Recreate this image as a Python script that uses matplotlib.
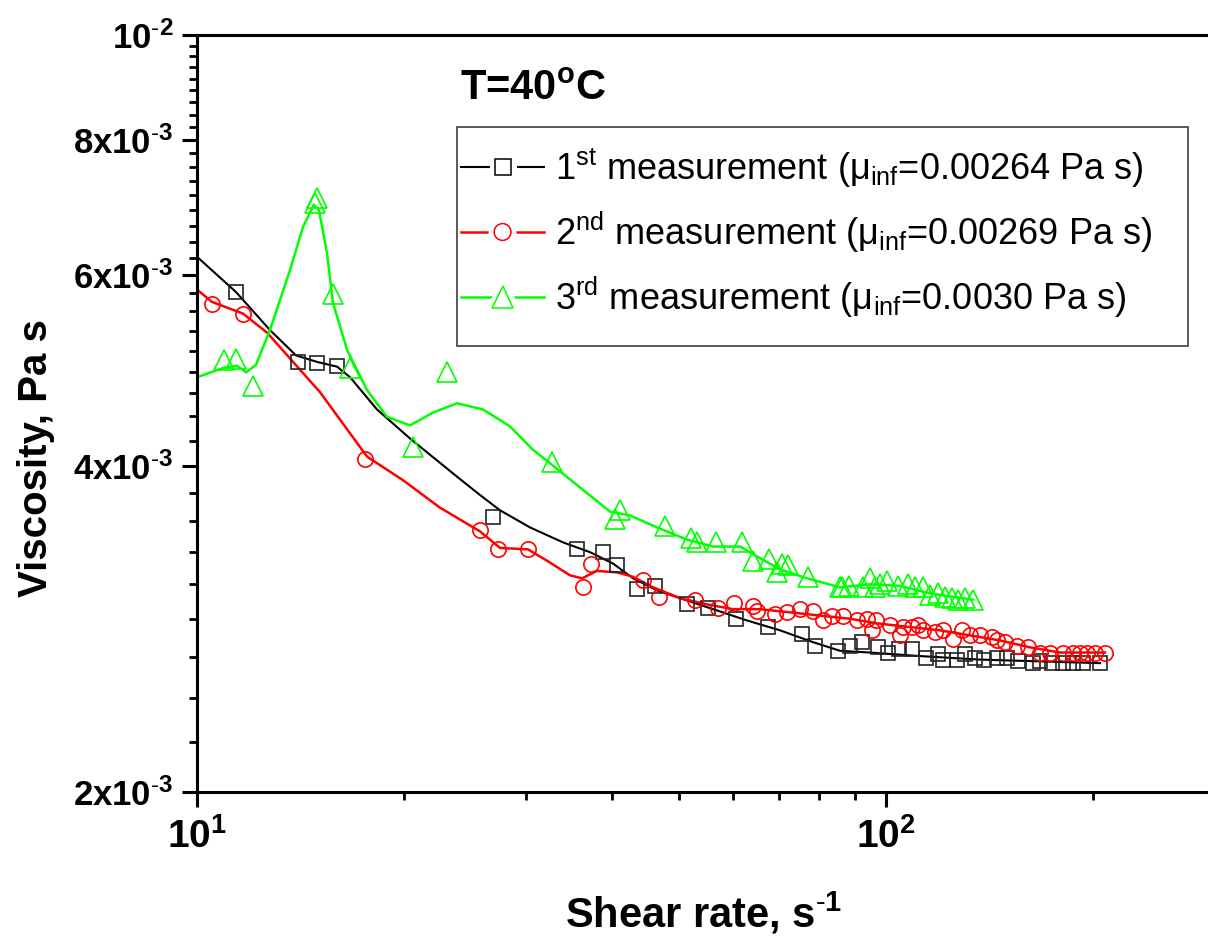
import numpy as np
import matplotlib
matplotlib.use('Agg')
import matplotlib.pyplot as plt
import matplotlib.patheffects as pe
from matplotlib.lines import Line2D
from matplotlib.patches import Rectangle
from matplotlib.legend_handler import HandlerTuple
from matplotlib.ticker import FixedLocator, FixedFormatter, NullFormatter

plt.rcParams['font.family'] = 'Liberation Sans'
plt.rcParams['mathtext.fontset'] = 'custom'
plt.rcParams['mathtext.rm'] = 'Liberation Sans'
plt.rcParams['mathtext.it'] = 'Liberation Sans:italic'
plt.rcParams['mathtext.bf'] = 'Liberation Sans:bold'

# viscosities in mPa s, converted to Pa s below

# 1st measurement (points)
rate_1 = [11.39, 14.02, 14.94, 15.97, 26.89, 35.61, 38.85, 40.70, 43.51, 46.21,
          51.43, 55.16, 60.58, 67.43, 75.52, 78.89, 85.19, 88.67, 92.30, 97.37,
          100.7, 104.4, 109.1, 114.3, 119.0, 121.0, 126.8, 130.2, 134.6, 138.8,
          144.9, 149.8, 155.4, 163.5, 167.3, 174.2, 180.7, 186.8, 193.2, 204.5]
visc_1 = [5.79, 4.99, 4.98, 4.95, 3.59, 3.35, 3.33, 3.24, 3.08, 3.10,
          2.98, 2.96, 2.89, 2.84, 2.80, 2.73, 2.70, 2.73, 2.75, 2.72,
          2.69, 2.71, 2.71, 2.66, 2.68, 2.65, 2.65, 2.68, 2.66, 2.65,
          2.66, 2.66, 2.64, 2.63, 2.64, 2.63, 2.63, 2.63, 2.63, 2.63]
# 1st measurement (smoothed curve)
curve_rate_1 = [10.0, 11.39, 12.76, 13.92, 14.94, 15.97, 16.68, 18.25, 20.38, 23.84,
                25.75, 27.53, 30.43, 33.98, 37.19, 40.17, 42.94, 46.52, 50.23, 56.10,
                62.84, 70.18, 78.35, 85.76, 94.80, 112.0, 136.9, 167.3, 204.5]
curve_visc_1 = [6.24, 5.79, 5.34, 5.06, 4.99, 4.94, 4.83, 4.51, 4.24, 3.91,
                3.76, 3.64, 3.51, 3.40, 3.33, 3.25, 3.15, 3.07, 3.02, 2.95,
                2.88, 2.82, 2.75, 2.70, 2.69, 2.67, 2.65, 2.64, 2.63]

# 2nd measurement (points)
rate_2 = [10.51, 11.66, 17.54, 25.75, 27.34, 30.22, 37.31, 36.33, 44.40, 46.84,
          52.83, 57.04, 60.17, 64.12, 64.99, 69.01, 71.83, 75.02, 78.34, 81.01,
          83.48, 86.61, 90.77, 93.85, 95.43, 96.72, 101.3, 104.8, 105.8, 109.1,
          111.3, 113.2, 117.8, 121.0, 125.1, 128.9, 132.4, 136.9, 142.5, 144.9,
          148.9, 154.9, 160.8, 167.3, 173.0, 180.7, 186.8, 191.2, 195.7, 201.1, 207.9]
visc_2 = [5.64, 5.53, 4.06, 3.49, 3.35, 3.35, 3.25, 3.09, 3.14, 3.03,
          3.01, 2.96, 2.99, 2.97, 2.94, 2.92, 2.93, 2.95, 2.94, 2.88,
          2.91, 2.91, 2.88, 2.89, 2.82, 2.88, 2.85, 2.79, 2.84, 2.84,
          2.85, 2.82, 2.81, 2.82, 2.77, 2.82, 2.79, 2.79, 2.78, 2.76,
          2.75, 2.73, 2.72, 2.69, 2.69, 2.69, 2.69, 2.69, 2.69, 2.69, 2.69]
# 2nd measurement (smoothed curve)
curve_rate_2 = [10.0, 10.51, 11.66, 12.64, 15.08, 17.65, 19.91, 22.53, 25.75, 27.53,
                30.22, 32.21, 34.78, 36.22, 38.07, 40.70, 42.94, 45.91, 50.23, 54.99,
                59.96, 65.62, 72.56, 80.22, 88.67, 98.02, 108.3, 119.8, 132.4, 146.4,
                161.8, 178.9, 207.9]
curve_visc_2 = [5.82, 5.67, 5.53, 5.31, 4.68, 4.08, 3.88, 3.66, 3.48, 3.36,
                3.35, 3.27, 3.17, 3.15, 3.20, 3.19, 3.16, 3.09, 3.02, 2.98,
                2.95, 2.95, 2.93, 2.91, 2.89, 2.86, 2.84, 2.82, 2.79, 2.76,
                2.72, 2.69, 2.69]

# 3rd measurement (points)
rate_3 = [10.95, 11.39, 12.06, 14.83, 14.94, 15.75, 16.68, 20.59, 23.06, 32.75,
          41.11, 40.43, 47.79, 52.12, 53.18, 56.66, 61.80, 64.12, 67.63, 69.46,
          70.63, 72.08, 77.05, 85.76, 86.32, 88.37, 92.62, 94.80, 96.38, 98.02,
          100.3, 104.1, 107.6, 110.2, 113.2, 115.9, 119.0, 121.8, 124.7, 127.2,
          130.2, 133.8]
visc_3 = [5.01, 5.02, 4.74, 7.00, 7.07, 5.77, 4.93, 4.16, 4.88, 4.03,
          3.64, 3.57, 3.52, 3.43, 3.40, 3.40, 3.40, 3.27, 3.28, 3.19,
          3.25, 3.24, 3.16, 3.09, 3.09, 3.10, 3.09, 3.15, 3.09, 3.11,
          3.13, 3.10, 3.11, 3.09, 3.09, 3.04, 3.05, 3.03, 3.02, 3.01,
          3.02, 3.01]
# 3rd measurement (smoothed curve)
curve_rate_3 = [10.0, 10.95, 11.43, 11.78, 12.18, 12.76, 13.65, 14.25, 14.78, 15.03,
                15.44, 15.75, 16.51, 17.65, 18.87, 20.38, 22.00, 23.84, 26.01, 28.47,
                30.73, 32.75, 35.97, 39.76, 42.51, 46.52, 51.43, 56.10, 61.39, 64.99,
                70.18, 76.79, 85.76, 94.80, 104.8, 115.9, 133.8]
curve_visc_3 = [4.83, 4.93, 4.95, 4.88, 4.96, 5.34, 6.07, 6.65, 6.97, 6.89,
                6.29, 5.66, 5.12, 4.70, 4.44, 4.36, 4.48, 4.57, 4.51, 4.35,
                4.14, 4.01, 3.82, 3.63, 3.60, 3.51, 3.42, 3.37, 3.37, 3.30,
                3.21, 3.15, 3.09, 3.11, 3.10, 3.05, 3.01]

labels = [r'1$^{\mathrm{st}}$ measurement (μ$_{\mathrm{inf}}$=0.00264 Pa s)',
          r'2$^{\mathrm{nd}}$ measurement (μ$_{\mathrm{inf}}$=0.00269 Pa s)',
          r'3$^{\mathrm{rd}}$ measurement (μ$_{\mathrm{inf}}$=0.0030 Pa s)']

x_major = [10, 100]
x_major_labels = [r'$\mathbf{10^{1}}$', r'$\mathbf{10^{2}}$']
y_major = [0.002, 0.004, 0.006, 0.008, 0.01]
y_major_labels = [r'$\mathbf{2x10^{\text{-}3}}$', r'$\mathbf{4x10^{\text{-}3}}$',
                  r'$\mathbf{6x10^{\text{-}3}}$', r'$\mathbf{8x10^{\text{-}3}}$',
                  r'$\mathbf{10^{\text{-}2}}$']

fig = plt.figure(figsize=(12.08, 9.38), dpi=100)
ax = fig.add_axes([0.1631, 0.1557, 0.8425, 0.8070])
ax.set_xscale('log')
ax.set_yscale('log')

series = [
    (rate_1, visc_1, curve_rate_1, curve_visc_1, 'black', 's', 10.5, 1.5),
    (rate_2, visc_2, curve_rate_2, curve_visc_2, 'red', 'o', 11, 1.8),
    (rate_3, visc_3, curve_rate_3, curve_visc_3, '#00ff00', '^', 14, 1.8),
]
handles = []
for r, v, cr, cv, col, mk, ms, lw in series:
    ax.plot(cr, np.array(cv) * 1e-3, color=col, lw=lw, zorder=2, solid_joinstyle='round')
    ax.plot(r, np.array(v) * 1e-3, ls='none', marker=mk, ms=ms, mfc='none',
            mec=col if col != 'black' else '#222222', mew=1.2, zorder=3)
    h_line = Line2D([], [], color=col, lw=lw)
    h_mark = Line2D([], [], ls='none', marker=mk, ms=ms * 1.1, mfc='white', mec=col, mew=1.1,
                    path_effects=[pe.Stroke(linewidth=8, foreground='white'), pe.Normal()])
    handles.append((h_line, h_mark))

ax.set_xlim(10, 300)
ax.set_ylim(0.002, 0.01)

ax.xaxis.set_major_locator(FixedLocator(x_major))
ax.xaxis.set_major_formatter(FixedFormatter(x_major_labels))
ax.xaxis.set_minor_locator(FixedLocator([20, 30, 40, 50, 60, 70, 80, 90, 200]))
ax.xaxis.set_minor_formatter(NullFormatter())
y_minor = np.concatenate([np.linspace(a, b, 10)[1:-1] for a, b in zip(y_major[:-1], y_major[1:])])
ax.yaxis.set_major_locator(FixedLocator(y_major))
ax.yaxis.set_major_formatter(FixedFormatter(y_major_labels))
ax.yaxis.set_minor_locator(FixedLocator(y_minor))
ax.yaxis.set_minor_formatter(NullFormatter())

ax.tick_params(which='major', direction='out', length=11, width=2.2, top=False, right=False)
ax.tick_params(which='minor', direction='out', length=6, width=2.0, top=False, right=False)
ax.tick_params(axis='x', labelsize=28, pad=8)
ax.tick_params(axis='y', labelsize=25, pad=6)
for s in ['left', 'bottom', 'top']:
    ax.spines[s].set_linewidth(2.2)
ax.spines['right'].set_visible(False)

ax.set_xlabel(r'Shear rate, s$^{\mathbf{\text{-}1}}$', fontsize=30, fontweight='bold')
ax.xaxis.set_label_coords(0.498, -0.129)
ax.set_ylabel('Viscosity, Pa s', fontsize=29, fontweight='bold')
ax.yaxis.set_label_coords(-0.1395, 0.441)

ax.text(0.2584, 0.9141, r'T=40$^{\mathbf{o}}$C', fontsize=30, fontweight='bold',
        transform=ax.transAxes, ha='left', va='baseline')

ax.legend(handles, labels, handler_map={tuple: HandlerTuple(ndivide=1)},
          loc='upper left', bbox_to_anchor=(0.2594, 0.853), frameon=False,
          fontsize=26, handlelength=2.3, handletextpad=0.3, labelspacing=0.55,
          borderpad=0, borderaxespad=0)
ax.add_patch(Rectangle((0.2555, 0.589), 0.7183, 0.2895, transform=ax.transAxes,
                       fill=False, ec='#4d4d4d', lw=1.3, zorder=5))

fig.savefig('out.png', dpi=100)
